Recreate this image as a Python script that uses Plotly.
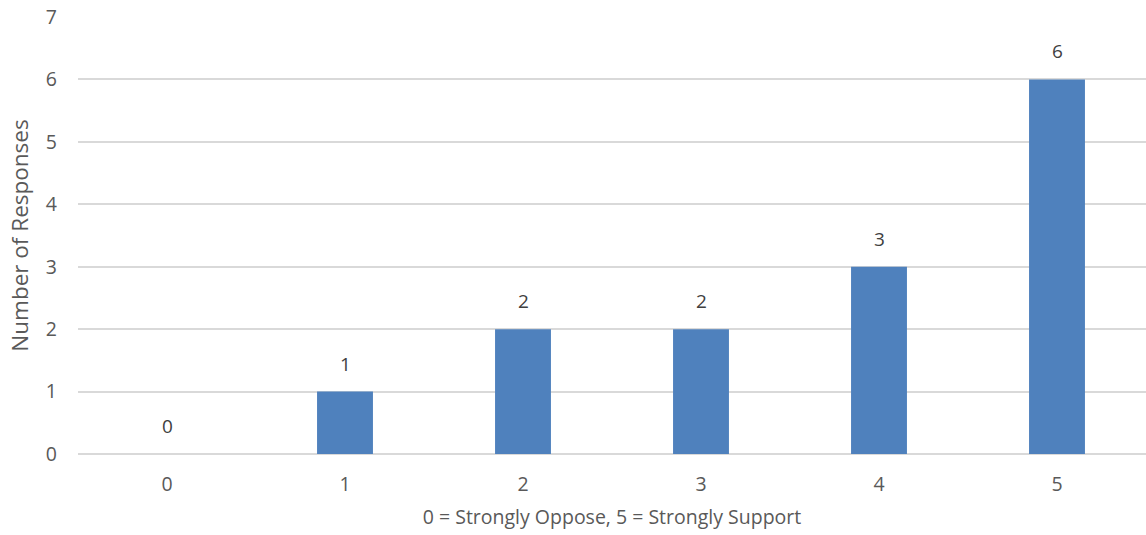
import plotly.graph_objects as go

categories = ["0", "1", "2", "3", "4", "5"]
responses = [0, 1, 2, 2, 3, 6]
y_ticks = [0, 1, 2, 3, 4, 5, 6, 7]

FONT = "Open Sans, Liberation Sans, sans-serif"
TEXT_COLOR = "#595959"

fig = go.Figure(
    go.Bar(
        x=categories,
        y=responses,
        marker=dict(color="#4F81BD", line=dict(width=0)),
        hoverinfo="x+y",
    )
)

# Value labels above each bar
for cat, val in zip(categories, responses):
    fig.add_annotation(
        x=cat, y=val, text=str(val), showarrow=False,
        yanchor="bottom", yshift=13,
        font=dict(family=FONT, size=19, color="#404040"),
    )

fig.update_layout(
    width=1146, height=535,
    margin=dict(l=78, r=0, t=17, b=81),
    paper_bgcolor="white", plot_bgcolor="white",
    bargap=0.686,
    showlegend=False,
    font=dict(family=FONT, size=19, color=TEXT_COLOR),
)
fig.update_xaxes(
    type="category",
    title=dict(text="0 = Strongly Oppose, 5 = Strongly Support",
               font=dict(size=19.5, color=TEXT_COLOR), standoff=14),
    showgrid=False, showline=False, ticks="",
    ticklabelstandoff=16,
    tickfont=dict(size=19.5, color=TEXT_COLOR),
)
fig.update_yaxes(
    range=[0, 7], tickvals=y_ticks,
    showgrid=True, gridcolor="#D9D9D9", gridwidth=1.5,
    zeroline=True, zerolinecolor="#D9D9D9", zerolinewidth=1.5,
    showline=False, ticks="",
    ticklabelstandoff=20,
    tickfont=dict(size=19.5, color=TEXT_COLOR),
    title=dict(text="Number of Responses", font=dict(size=22.5, color=TEXT_COLOR), standoff=10),
)

fig.write_html("out.html")
